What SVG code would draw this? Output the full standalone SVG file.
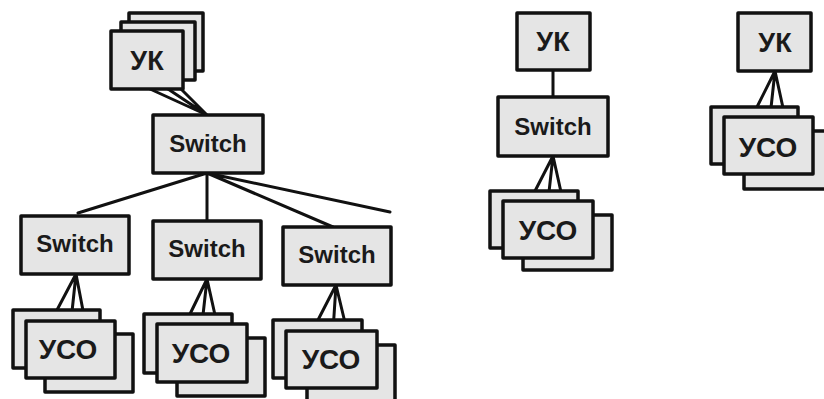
<svg xmlns="http://www.w3.org/2000/svg" width="824" height="399" viewBox="0 0 824 399">
<style>
.b{fill:#e5e5e5;stroke:#111;stroke-width:3.5;stroke-linejoin:round}
.c{stroke:#111;stroke-width:3;fill:none;stroke-linecap:round}
.t{font-family:"Liberation Sans",Arial,sans-serif;font-weight:bold;fill:#1a1a1a;text-anchor:middle;dominant-baseline:central}
.s{font-size:24px}
.k{font-size:27px}
.u{font-size:28px}
</style>
<rect width="824" height="399" fill="#fff"/>
<g id="connectors" class="c">
<path d="M150 89L207 115M168 89L207 115M180 88L207 115"/>
<path d="M207 173L78 213M207 173L207 221M207 173L333 227M207 173L390 212"/>
<path d="M76 274L57 310M76 274L71 321M76 274L85 321"/>
<path d="M207 279L190 314M207 279L202 324M207 279L217 324"/>
<path d="M336 285L318 320M336 285L333 331M336 285L347 331"/>
<path d="M553 70L553 97"/>
<path d="M553 156L535 191M553 156L548 201M553 156L563 201"/>
<path d="M775 71L757 107M775 71L770 117M775 71L785 117"/>
</g>
<g id="uk-stack">
<rect class="b" x="129" y="13" width="74" height="58"/>
<rect class="b" x="121" y="22" width="74" height="58"/>
<rect class="b" x="111" y="31" width="72" height="58"/>
<text class="t k" x="147" y="61">УК</text>
</g>
<g id="switch-root">
<rect class="b" x="153" y="115" width="110" height="58"/>
<text class="t s" x="208" y="143">Switch</text>
</g>
<g id="switch-1">
<rect class="b" x="21" y="216" width="108" height="58"/>
<text class="t s" x="75" y="243">Switch</text>
</g>
<g id="switch-2">
<rect class="b" x="153" y="221" width="108" height="58"/>
<text class="t s" x="207" y="248">Switch</text>
</g>
<g id="switch-3">
<rect class="b" x="283" y="227" width="108" height="58"/>
<text class="t s" x="337" y="254">Switch</text>
</g>
<g id="uso-stack-1">
<rect class="b" x="45" y="334" width="88" height="58"/>
<rect class="b" x="13" y="310" width="87" height="58"/>
<rect class="b" x="26" y="321" width="89" height="57"/>
<text class="t u" x="68" y="349">УСО</text>
</g>
<g id="uso-stack-2">
<rect class="b" x="177" y="338" width="88" height="58"/>
<rect class="b" x="144" y="314" width="88" height="59"/>
<rect class="b" x="157" y="324" width="90" height="58"/>
<text class="t u" x="201" y="353">УСО</text>
</g>
<g id="uso-stack-3">
<rect class="b" x="307" y="345" width="88" height="60"/>
<rect class="b" x="273" y="320" width="89" height="58"/>
<rect class="b" x="286" y="331" width="91" height="57"/>
<text class="t u" x="331" y="359">УСО</text>
</g>
<g id="uk-2">
<rect class="b" x="517" y="13" width="73" height="57"/>
<text class="t k" x="553" y="42">УК</text>
</g>
<g id="switch-4">
<rect class="b" x="498" y="97" width="110" height="59"/>
<text class="t s" x="553" y="126">Switch</text>
</g>
<g id="uso-stack-4">
<rect class="b" x="523" y="215" width="89" height="55"/>
<rect class="b" x="490" y="191" width="88" height="57"/>
<rect class="b" x="503" y="201" width="90" height="57"/>
<text class="t u" x="548" y="230">УСО</text>
</g>
<g id="uk-3">
<rect class="b" x="738" y="13" width="73" height="58"/>
<text class="t k" x="775" y="43">УК</text>
</g>
<g id="uso-stack-5">
<rect class="b" x="744" y="131" width="90" height="58"/>
<rect class="b" x="711" y="107" width="87" height="57"/>
<rect class="b" x="724" y="117" width="89" height="57"/>
<text class="t u" x="768" y="147">УСО</text>
</g>
</svg>
